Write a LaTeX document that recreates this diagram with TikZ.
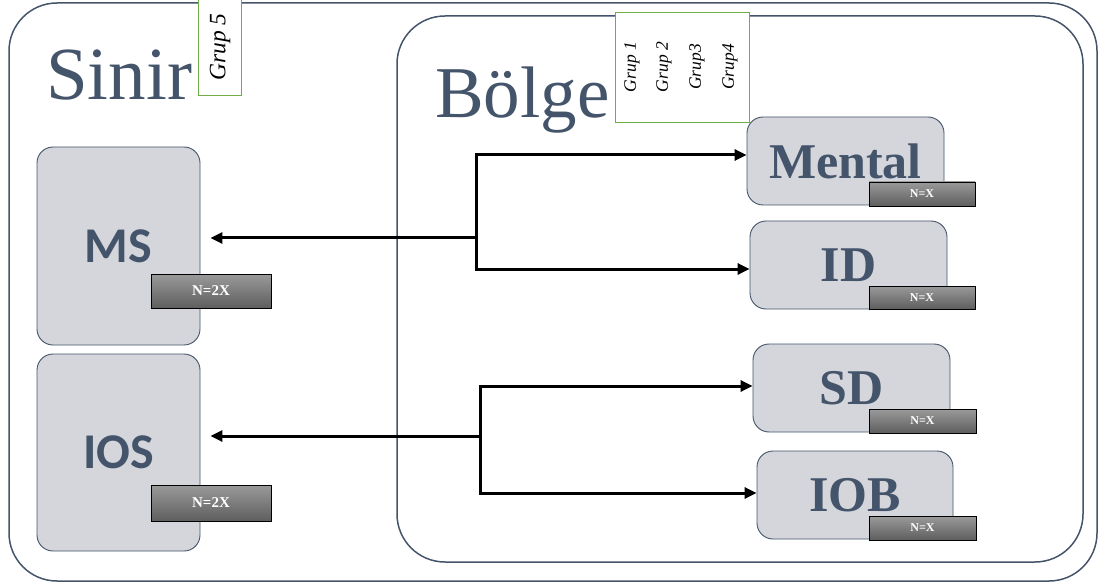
\documentclass[tikz,border=0pt]{standalone}
\usepackage{fontspec}
\setmainfont{Liberation Serif}
\newfontfamily\calib{Carlito}
\usetikzlibrary{arrows.meta}
\definecolor{slate}{HTML}{44546A}
\definecolor{boxfill}{HTML}{D5D6DB}
\definecolor{grn}{HTML}{70AD47}
\definecolor{ntop}{HTML}{9A9A9A}
\definecolor{nbot}{HTML}{5E5E5E}
\begin{document}
\begin{tikzpicture}[x=1pt,y=-1pt,
  frame/.style={draw=slate, line width=1.5pt, inner sep=0pt, rounded corners=48pt},
  grbox/.style={draw=grn, fill=white, line width=0.8pt, inner sep=0pt},
  grlab/.style={rotate=90, inner sep=0pt, font=\itshape\fontsize{17.5}{20}\selectfont},
  sbox/.style={draw=slate, fill=boxfill, line width=0.9pt, rounded corners=16pt, inner sep=0pt, text=slate},
  lbox/.style={sbox, minimum width=163pt, font=\calib\bfseries\fontsize{50}{56}\selectfont},
  rbox/.style={sbox, minimum width=197pt, minimum height=88pt, font=\bfseries\fontsize{50}{56}\selectfont},
  nbox/.style={draw=black, line width=0.8pt, top color=ntop, bottom color=nbot, text=white, inner sep=0pt},
  nbig/.style={nbox, minimum width=120pt, font=\bfseries\fontsize{15}{17}\selectfont},
  nsmall/.style={nbox, minimum width=106pt, minimum height=24pt, font=\bfseries\fontsize{12}{14}\selectfont},
  arr/.style={line width=3pt, -{Triangle[length=12pt,width=11pt]}}]
\useasboundingbox (0,0) rectangle (1102,585);

% frames
\node[frame, minimum width=1088pt, minimum height=578pt] (outer) at (553,292) {};
\node[frame, minimum width=686pt, minimum height=546pt] (inner) at (740,289) {};

% titles
\node[anchor=base west, inner sep=0pt, text=slate, font=\fontsize{75}{80}\selectfont] (sinir) at (46,100) {Sinir};
\node[anchor=base west, inner sep=0pt, text=slate, font=\fontsize{73}{78}\selectfont] (bolge) at (435,118) {Bölge};

% group boxes
\node[grbox, minimum width=43pt, minimum height=100pt] (g5box) at (219.5,45) {};
\node[rotate=90, inner sep=0pt, font=\itshape\fontsize{23.5}{27}\selectfont] (g5) at (220,47) {Grup 5};
\node[grbox, minimum width=134pt, minimum height=110pt] (g14box) at (682,67) {};
\node[grlab] (g1) at (632,67) {Grup 1};
\node[grlab] (g2) at (664,67) {Grup 2};
\node[grlab] (g3) at (697,67) {Grup3};
\node[grlab] (g4) at (730,67) {Grup4};

% left boxes
\node[lbox, minimum height=198pt] (ms) at (118.5,246) {MS};
\node[nbig, minimum height=34pt] (nms) at (211,291) {N=2X};
\node[lbox, minimum height=197pt] (ios) at (118.5,452.5) {IOS};
\node[nbig, minimum height=36pt] (nios) at (211,503) {N=2X};

% right boxes
\node[rbox] (mental) at (845.5,161) {Mental};
\node[nsmall] (nmental) at (922,194) {N=X};
\node[rbox] (id) at (848.5,265) {ID};
\node[nsmall, minimum height=23pt] (nid) at (922,297.5) {N=X};
\node[rbox] (sd) at (851.5,388) {SD};
\node[nsmall, minimum width=107pt] (nsd) at (922.5,421) {N=X};
\node[rbox, minimum width=196pt] (iob) at (855,495) {IOB};
\node[nsmall, minimum width=107pt] (niob) at (922.5,528) {N=X};

% connectors
\coordinate (j1) at (476,238);
\coordinate (j2) at (480,436);
\draw[arr, shorten >=10pt] (j1) -- (j1 -| ms.east);
\draw[arr] (j1) |- ([yshift=6pt]mental.west);
\draw[arr] (j1) |- ([yshift=-4pt]id.west);
\draw[arr, shorten >=10pt] (j2) -- (j2 -| ios.east);
\draw[arr] (j2) |- ([yshift=2pt]sd.west);
\draw[arr] (j2) |- ([yshift=2pt]iob.west);
\end{tikzpicture}
\end{document}
